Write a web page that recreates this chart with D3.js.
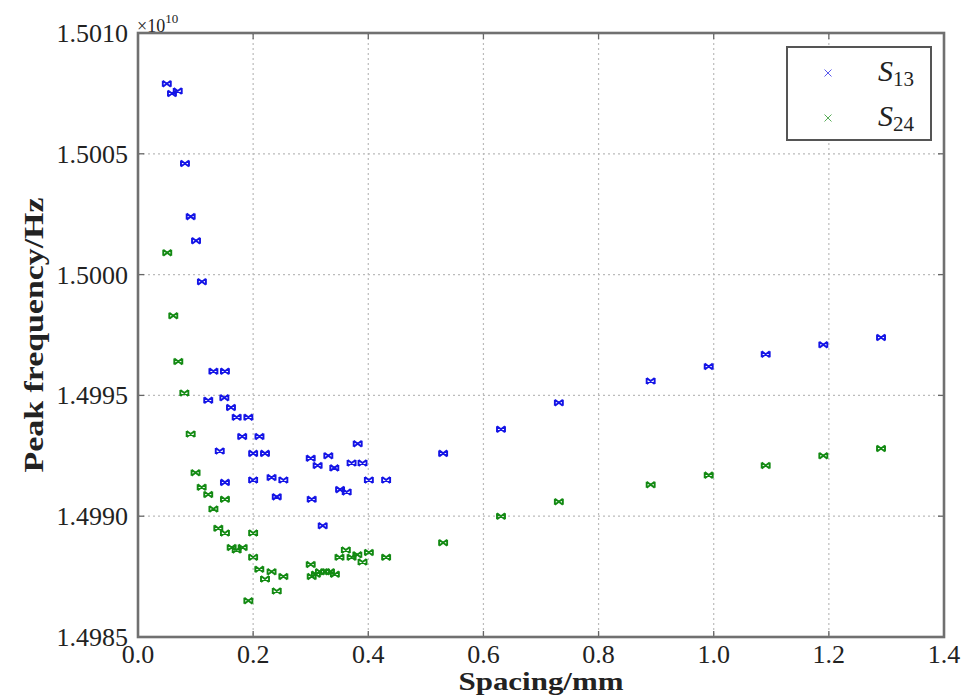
<!DOCTYPE html>
<html>
<head>
<meta charset="utf-8">
<script src="https://cdn.jsdelivr.net/npm/d3@7"></script>
<style>
  body { margin: 0; background: #fff; }
  text { font-family: "Liberation Serif", "DejaVu Serif", "Times New Roman", serif; fill: #222; }
  .grid line { stroke: #bbb; stroke-width: 1.2; stroke-dasharray: 2,3; }
</style>
</head>
<body>
<div id="chart"></div>
<script>
// DATA (spacing in mm, peak frequency in units of 1e10 Hz)
const s13X = [0.050, 0.059, 0.069, 0.0816, 0.0915, 0.1008, 0.111, 0.131, 0.151, 0.122, 0.150, 0.1615, 0.1714, 0.1917, 0.181, 0.211, 0.142, 0.200, 0.2206, 0.151, 0.200, 0.232, 0.2525, 0.241, 0.300, 0.312, 0.3306, 0.341, 0.3816, 0.371, 0.390, 0.401, 0.431, 0.351, 0.3625, 0.3017, 0.3208, 0.530, 0.6305, 0.731, 0.8905, 0.9913, 1.0903, 1.1904, 1.2906];
const s13Y = [1.50079, 1.50075, 1.50076, 1.50046, 1.50024, 1.50014, 1.49997, 1.49960, 1.49960, 1.49948, 1.49949, 1.49945, 1.49941, 1.49941, 1.49933, 1.49933, 1.49927, 1.49926, 1.49926, 1.49914, 1.49915, 1.49916, 1.49915, 1.49908, 1.49924, 1.49921, 1.49925, 1.49920, 1.49930, 1.49922, 1.49922, 1.49915, 1.49915, 1.49911, 1.49910, 1.49907, 1.49896, 1.49926, 1.49936, 1.49947, 1.49956, 1.49962, 1.49967, 1.49971, 1.49974];
const s24X = [0.0508, 0.0613, 0.070, 0.0805, 0.0915, 0.100, 0.1106, 0.122, 0.151, 0.131, 0.1395, 0.151, 0.1627, 0.1714, 0.1818, 0.200, 0.200, 0.2107, 0.2206, 0.232, 0.2525, 0.241, 0.1917, 0.300, 0.3017, 0.309, 0.316, 0.325, 0.3335, 0.342, 0.350, 0.361, 0.371, 0.381, 0.390, 0.401, 0.431, 0.530, 0.6305, 0.731, 0.8905, 0.9913, 1.0903, 1.1904, 1.2906];
const s24Y = [1.50009, 1.49983, 1.49964, 1.49951, 1.49934, 1.49918, 1.49912, 1.49909, 1.49907, 1.49903, 1.49895, 1.49893, 1.49887, 1.49886, 1.49887, 1.49893, 1.49883, 1.49878, 1.49874, 1.49877, 1.49875, 1.49869, 1.49865, 1.49880, 1.49875, 1.49876, 1.49877, 1.49877, 1.49877, 1.49876, 1.49883, 1.49886, 1.49883, 1.49884, 1.49881, 1.49885, 1.49883, 1.49889, 1.49900, 1.49906, 1.49913, 1.49917, 1.49921, 1.49925, 1.49928];
const xTicks = [0.0, 0.2, 0.4, 0.6, 0.8, 1.0, 1.2, 1.4];
const yTicks = [1.4985, 1.4990, 1.4995, 1.5000, 1.5005, 1.5010];
const seriesNames = ["13", "24"];
const seriesColors = ["#1414e6", "#138a13"];

//MARGIN CONVENTION
const MARGIN = { LEFT: 138, RIGHT: 34, TOP: 33, BOTTOM: 60 };
const W = 978, H = 697;
const PLOT = { WIDTH: W - MARGIN.LEFT - MARGIN.RIGHT, HEIGHT: H - MARGIN.TOP - MARGIN.BOTTOM };

const svg = d3.select("#chart").append("svg")
  .attr("width", W).attr("height", H);
const g = svg.append("g").attr("transform", `translate(${MARGIN.LEFT},${MARGIN.TOP})`);

//SCALES
const x = d3.scaleLinear().domain([0, 1.4]).range([0, PLOT.WIDTH]);
const y = d3.scaleLinear().domain([1.4985, 1.5010]).range([PLOT.HEIGHT, 0]);

// GRID
const grid = g.append("g").attr("class", "grid");
grid.selectAll(".gx").data(xTicks.slice(1, -1)).join("line")
  .attr("x1", d => x(d)).attr("x2", d => x(d)).attr("y1", 0).attr("y2", PLOT.HEIGHT);
grid.selectAll(".gy").data(yTicks.slice(1, -1)).join("line")
  .attr("y1", d => y(d)).attr("y2", d => y(d)).attr("x1", 0).attr("x2", PLOT.WIDTH);

// TICKS (inward, all four sides)
const tickLen = 6;
const ticks = g.append("g").attr("stroke", "#666").attr("stroke-width", 1.3);
xTicks.forEach(t => {
  ticks.append("line").attr("x1", x(t)).attr("x2", x(t)).attr("y1", PLOT.HEIGHT).attr("y2", PLOT.HEIGHT - tickLen);
  ticks.append("line").attr("x1", x(t)).attr("x2", x(t)).attr("y1", 0).attr("y2", tickLen);
});
yTicks.forEach(t => {
  ticks.append("line").attr("y1", y(t)).attr("y2", y(t)).attr("x1", 0).attr("x2", tickLen);
  ticks.append("line").attr("y1", y(t)).attr("y2", y(t)).attr("x1", PLOT.WIDTH).attr("x2", PLOT.WIDTH - tickLen);
});

// TICK LABELS
g.selectAll(".xl").data(xTicks).join("text")
  .attr("x", d => x(d)).attr("y", PLOT.HEIGHT + 26)
  .attr("text-anchor", "middle").attr("font-size", 26)
  .text(d => d.toFixed(1));
g.selectAll(".yl").data(yTicks).join("text")
  .attr("x", -10).attr("y", d => y(d) + 9)
  .attr("text-anchor", "end").attr("font-size", 26)
  .text(d => d.toFixed(4));

// OFFSET TEXT x10^10
const off = g.append("text").attr("x", -1).attr("y", -1).attr("font-size", 18);
off.append("tspan").text("×10");
off.append("tspan").attr("font-size", 13).attr("dy", -9).text("10");

// FRAME
g.append("rect").attr("width", PLOT.WIDTH).attr("height", PLOT.HEIGHT)
  .attr("fill", "none").attr("stroke", "#707070").attr("stroke-width", 2.6);

// MARKERS
const markerPath = "M-4,-3L4,3M-4,3L4,-3M-4,-3L-4,3M4,-3L4,3";
function drawSeries(xs, ys, color) {
  g.append("g").selectAll("path").data(xs.map((d, i) => [d, ys[i]])).join("path")
    .attr("d", markerPath)
    .attr("transform", d => `translate(${x(d[0])},${y(d[1])})`)
    .attr("fill", "none").attr("stroke", color).attr("stroke-width", 1.9);
}
drawSeries(s13X, s13Y, seriesColors[0]);
drawSeries(s24X, s24Y, seriesColors[1]);

// AXIS LABELS
svg.append("text").attr("x", MARGIN.LEFT + PLOT.WIDTH / 2).attr("y", 690)
  .attr("text-anchor", "middle").attr("font-size", 26).attr("font-weight", "bold")
  .attr("textLength", 165).attr("lengthAdjust", "spacingAndGlyphs")
  .text("Spacing/mm");
svg.append("text").attr("transform", `translate(43,${MARGIN.TOP + PLOT.HEIGHT / 2}) rotate(-90)`)
  .attr("text-anchor", "middle").attr("font-size", 27).attr("font-weight", "bold")
  .attr("textLength", 275).attr("lengthAdjust", "spacingAndGlyphs")
  .text("Peak frequency/Hz");

// LEGEND
const leg = svg.append("g").attr("transform", "translate(787,47)");
leg.append("rect").attr("width", 144).attr("height", 93)
  .attr("fill", "#fff").attr("stroke", "#555").attr("stroke-width", 2);
seriesNames.forEach((name, i) => {
  const ly = 26 + i * 45;
  leg.append("path").attr("d", "M-3.5,-3.5L3.5,3.5M-3.5,3.5L3.5,-3.5")
    .attr("transform", `translate(41,${ly})`)
    .attr("stroke", seriesColors[i]).attr("stroke-width", 1).attr("fill", "none").attr("opacity", 0.7);
  const t = leg.append("text").attr("x", 91).attr("y", ly + 8).attr("font-size", 30);
  t.append("tspan").attr("font-style", "italic").text("S");
  t.append("tspan").attr("font-size", 21).attr("dy", 5).text(name);
});
</script>
</body>
</html>
